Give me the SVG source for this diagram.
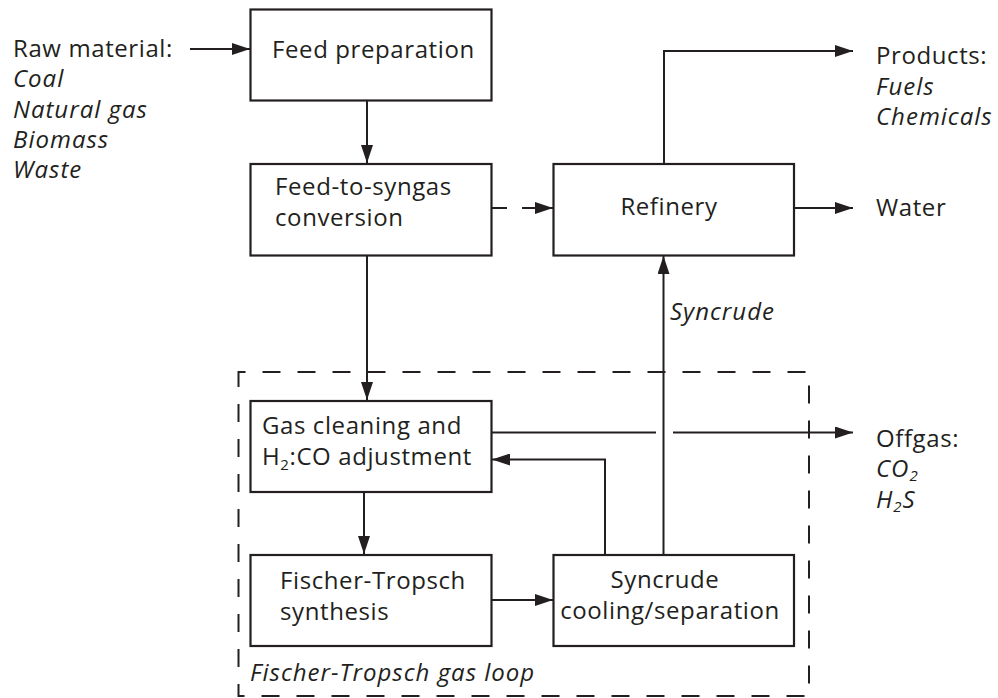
<svg xmlns="http://www.w3.org/2000/svg" width="998" height="698" viewBox="0 0 998 698">
<style>
.box{fill:#fff;stroke:#231f20;stroke-width:2.2}
.ln{fill:none;stroke:#231f20;stroke-width:2}
.t{font-family:"Open Sans","Noto Sans",sans-serif;font-size:24px;letter-spacing:0.6px;fill:#231f20}
.i{font-style:italic;letter-spacing:1px}
.c{text-anchor:middle}
.sub{font-size:15px}
</style>
<defs>
<marker id="ah" viewBox="0 0 18 12" refX="18" refY="6" markerWidth="18" markerHeight="12" markerUnits="userSpaceOnUse" orient="auto">
<path d="M0,0 L18,6 L0,12 Z" fill="#231f20"/>
</marker>
</defs>
<rect width="998" height="698" fill="#fff"/>
<g id="loop">
<rect x="238.5" y="372" width="570.5" height="324" fill="none" stroke="#231f20" stroke-width="2" stroke-dasharray="18,17" stroke-dashoffset="11"/>
<text class="t i" x="250" y="681">Fischer-Tropsch gas loop</text>
</g>
<g id="connectors">
<line class="ln" x1="190" y1="49" x2="250" y2="49" marker-end="url(#ah)"/>
<line class="ln" x1="367" y1="101" x2="367" y2="163" marker-end="url(#ah)"/>
<line class="ln" x1="492" y1="208" x2="507" y2="208"/>
<line class="ln" x1="522" y1="208" x2="553" y2="208" marker-end="url(#ah)"/>
<polyline class="ln" points="664,163 664,51 853,51" marker-end="url(#ah)"/>
<line class="ln" x1="795" y1="208" x2="853" y2="208" marker-end="url(#ah)"/>
<line class="ln" x1="367" y1="256" x2="367" y2="400" marker-end="url(#ah)"/>
<line class="ln" x1="364" y1="492" x2="364" y2="554" marker-end="url(#ah)"/>
<line class="ln" x1="492" y1="600" x2="553" y2="600" marker-end="url(#ah)"/>
<polyline class="ln" points="605,555 605,459.5 492,459.5" marker-end="url(#ah)"/>
<line class="ln" x1="663.5" y1="555" x2="663.5" y2="256" marker-end="url(#ah)"/>
<line class="ln" x1="492" y1="432.5" x2="656" y2="432.5"/>
<line class="ln" x1="673" y1="432.5" x2="853" y2="432.5" marker-end="url(#ah)"/>
<text class="t i" x="670" y="320">Syncrude</text>
</g>
<g id="raw">
<text class="t" x="13" y="57">Raw material:</text>
<text class="t i" x="13" y="87">Coal</text>
<text class="t i" x="13" y="118">Natural gas</text>
<text class="t i" x="13" y="148">Biomass</text>
<text class="t i" x="13" y="178">Waste</text>
</g>
<g id="feedprep">
<rect class="box" x="250.5" y="9.5" width="241" height="91"/>
<text class="t" x="272" y="58">Feed preparation</text>
</g>
<g id="feedsyngas">
<rect class="box" x="250.5" y="164" width="241" height="91.5"/>
<text class="t" x="275" y="195">Feed-to-syngas</text>
<text class="t" x="275" y="226">conversion</text>
</g>
<g id="refinery">
<rect class="box" x="553.5" y="164" width="240.5" height="91.5"/>
<text class="t c" x="669" y="215">Refinery</text>
</g>
<g id="products">
<text class="t" x="876" y="64">Products:</text>
<text class="t i" x="876" y="95">Fuels</text>
<text class="t i" x="876" y="125">Chemicals</text>
</g>
<g id="water">
<text class="t" x="876" y="216">Water</text>
</g>
<g id="gasclean">
<rect class="box" x="250.5" y="401" width="241" height="91"/>
<text class="t" x="262" y="434">Gas cleaning and</text>
<text class="t" x="262" y="465">H<tspan class="sub" dy="5">2</tspan><tspan dy="-5">:CO adjustment</tspan></text>
</g>
<g id="ft">
<rect class="box" x="250.5" y="555" width="241" height="91"/>
<text class="t" x="280" y="589">Fischer-Tropsch</text>
<text class="t" x="280" y="620">synthesis</text>
</g>
<g id="syncrude">
<rect class="box" x="553.5" y="555" width="240.5" height="91"/>
<text class="t c" x="665" y="588">Syncrude</text>
<text class="t c" x="670" y="619">cooling/separation</text>
</g>
<g id="offgas">
<text class="t" x="876" y="447">Offgas:</text>
<text class="t i" x="876" y="477">CO<tspan class="sub" dy="4">2</tspan></text>
<text class="t i" x="876" y="508">H<tspan class="sub" dy="4">2</tspan><tspan dy="-4">S</tspan></text>
</g>
</svg>
